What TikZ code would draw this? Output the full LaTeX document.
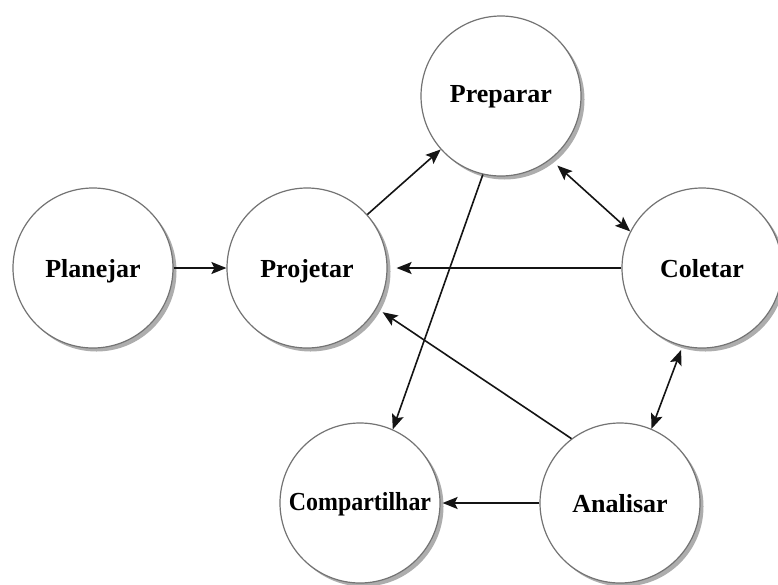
\documentclass[tikz,border=0pt]{standalone}
\usepackage{fontspec}
\setmainfont{Liberation Serif}
\newfontfamily\condserif[FakeStretch=0.92]{Liberation Serif}
\usetikzlibrary{shadows,arrows.meta}

\tikzset{
  stage/.style={circle, draw=black!55, line width=1.2pt, fill=white,
    minimum size=160pt, inner sep=0pt, text height=18pt, text depth=0pt,
    font=\fontsize{26}{30}\selectfont\bfseries,
    drop shadow={shadow xshift=3.5pt, shadow yshift=-3.5pt, fill=black!32, opacity=1}},
  flow/.style={line width=1.6pt, draw=black!92, -{Stealth[length=15pt,width=12pt,inset=3pt]}},
  twoway/.style={line width=1.6pt, draw=black!92,
    {Stealth[length=15pt,width=12pt,inset=3pt]}-{Stealth[length=15pt,width=12pt,inset=3pt]}}
}

\begin{document}
\begin{tikzpicture}[x=1pt,y=-1pt]
  \path[use as bounding box, fill=white] (0,0) rectangle (778,584);

  % the six stages of the cycle
  \node[stage] (plan) at (93,268)  {Planejar};
  \node[stage] (proj) at (307,268) {Projetar};
  \node[stage, text height=12pt] (prep) at (501,96) {Preparar};
  \node[stage] (col)  at (702,268) {Coletar};
  \node[stage] (ana)  at (620,503) {Analisar};
  \node[stage, text height=14pt,
        font=\condserif\fontsize{26}{30}\selectfont\bfseries] (comp) at (360,503) {Compartilhar};

  % one-way transitions
  \draw[flow] (plan) -- (proj);
  \draw[flow] (proj) -- (prep);
  \draw[flow] (prep.-103) -- (comp.66);
  \draw[flow, shorten >=9pt] (col) -- (proj);
  \draw[flow, shorten >=7pt] (ana.127) -- (proj.-30);
  \draw[flow, shorten >=2pt] (ana) -- (comp);

  % two-way transitions
  \draw[twoway, shorten <=9pt] (prep.-52.7) -- (col.153);
  \draw[twoway, shorten <=4pt] (col.-104) -- (ana.67);
\end{tikzpicture}
\end{document}
